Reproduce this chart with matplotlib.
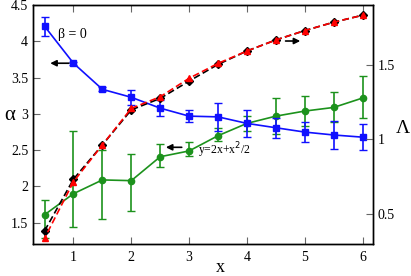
import matplotlib
matplotlib.use("Agg")
import matplotlib.pyplot as plt

# data
x = [0.5, 1, 1.5, 2, 2.5, 3, 3.5, 4, 4.5, 5, 5.5, 6]

# blue squares (alpha, left axis)
alpha_b = [4.21, 3.70, 3.34, 3.23, 3.08, 2.97, 2.96, 2.87, 2.81, 2.75, 2.71, 2.68]
alpha_b_err = [0.13, 0.02, 0.03, 0.10, 0.11, 0.08, 0.19, 0.19, 0.14, 0.14, 0.19, 0.18]

# green circles (alpha, left axis), asymmetric errors
alpha_g = [1.61, 1.90, 2.09, 2.08, 2.41, 2.49, 2.70, 2.87, 2.97, 3.04, 3.09, 3.22]
alpha_g_lo = [0.32, 0.46, 0.54, 0.42, 0.14, 0.07, 0.07, 0.10, 0.24, 0.21, 0.20, 0.28]
alpha_g_hi = [0.20, 0.86, 0.41, 0.37, 0.18, 0.12, 0.11, 0.10, 0.25, 0.21, 0.21, 0.31]

# Lambda, right axis
lam_black = [0.386, 0.733, 0.963, 1.198, 1.275, 1.391, 1.503, 1.593, 1.667, 1.730, 1.786, 1.833]
lam_red = [0.337, 0.716, 0.963, 1.208, 1.286, 1.410, 1.510, 1.593, 1.667, 1.730, 1.786, 1.833]

blue = "#1010ff"
green = "#1c921c"

plt.rcParams["font.family"] = ["Liberation Serif", "DejaVu Serif"]

fig = plt.figure(figsize=(4.11, 2.76), dpi=100)
ax = fig.add_axes([0.0803, 0.117, 0.8272, 0.864])
ax2 = ax.twinx()

ax.errorbar(x, alpha_g, yerr=[alpha_g_lo, alpha_g_hi], color=green, marker="o",
            ms=4.5, lw=1.2, capsize=3, elinewidth=1.2, ecolor=green, zorder=2)
ax.errorbar(x, alpha_b, yerr=alpha_b_err, color=blue, marker="s",
            ms=4, lw=1.2, capsize=3, elinewidth=1.2, ecolor=blue, zorder=3)

ax2.plot(x, lam_black, color="black", ls=(0, (4, 2)), marker="D", ms=4, lw=1.2)
ax2.plot(x, lam_red, color="red", ls=(2, (4, 2)), marker="^", ms=5, lw=1.2)

ax.set_xlim(0.3, 6.18)
ax.set_ylim(1.21, 4.5)
ax2.set_ylim(0.3, 1.9)

ax.set_xticks([1, 2, 3, 4, 5, 6])
ax.set_yticks([1.5, 2, 2.5, 3, 3.5, 4, 4.5])
ax.set_yticklabels(["1.5", "2", "2.5", "3", "3.5", "4", "4.5"])
ax2.set_yticks([0.5, 1, 1.5])
ax2.set_yticklabels(["0.5", "1", "1.5"])

ax.tick_params(axis="x", direction="in", top=True, length=5, color="#666666",
               labelsize=10, pad=5)
ax.tick_params(axis="y", direction="in", length=5, color="#666666", labelsize=10)
ax2.tick_params(axis="y", direction="in", length=5, color="#666666", labelsize=10)

for a in (ax, ax2):
    for s in a.spines.values():
        s.set_linewidth(1.0)

# annotations
arrow = dict(arrowstyle="-|>", color="black", lw=1.2, mutation_scale=9)
ax.annotate("", xy=(0.55, 3.70), xytext=(0.97, 3.70), arrowprops=arrow)
ax.text(0.74, 4.1, "β = 0", fontsize=10, ha="left", va="center")
ax.annotate("", xy=(2.55, 2.54), xytext=(2.92, 2.54), arrowprops=arrow)
ax.text(3.15, 2.50, "y=2x+x$^2$/2", fontsize=8.5, ha="left", va="center")
ax2.annotate("", xy=(4.97, 1.66), xytext=(4.62, 1.66), arrowprops=arrow)

fig.text(10 / 411, 1 - 115 / 276, "α", fontsize=15, ha="center", va="center")
fig.text(403 / 411, 1 - 128 / 276, "Λ", fontsize=14, ha="center", va="center")
fig.text(220 / 411, 1 - 268 / 276, "x", fontsize=13, ha="center", va="center")

fig.savefig("out.png", dpi=100)
